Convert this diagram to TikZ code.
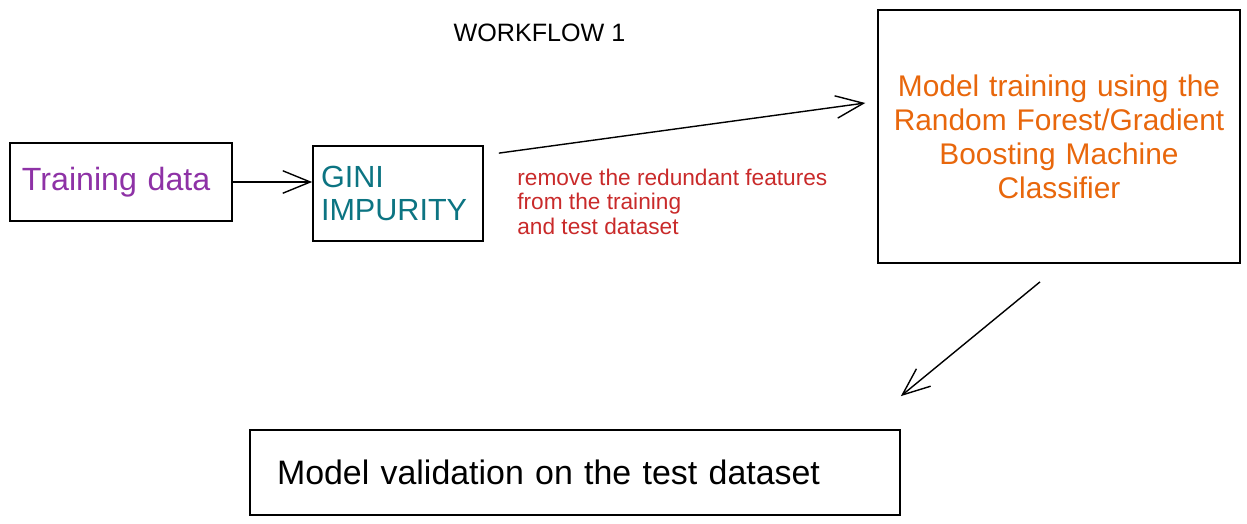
\documentclass[tikz,border=0pt]{standalone}
\usepackage{fontspec}
\setmainfont{Liberation Sans}
\usetikzlibrary{arrows.meta}
\definecolor{violet}{HTML}{8E32A6}
\definecolor{teal}{HTML}{0C7482}
\definecolor{orange}{HTML}{E8670C}
\definecolor{red}{HTML}{C92A2A}
\begin{document}
\begin{tikzpicture}[squarednode/.style={rectangle, draw, line width=1pt, font=\fontsize{17}{19.4}\selectfont},
	>={Straight Barb[length=5.5mm,width=4.5mm]}
	]
	\useasboundingbox (0,0) rectangle (24.94,10.48);
	\path
	+(10.79,9.82)  node[font=\fontsize{14.3}{17}\selectfont]  (0) {WORKFLOW 1}
	+(2.42,6.84)  node[squarednode,minimum width=4.44cm,minimum height=1.56cm,inner xsep=0.24cm,text width=3.96cm,align=left,text=violet,font=\fontsize{18.3}{21}\selectfont]  (1) {Training data}
	+(7.96,6.61)  node[squarednode,minimum width=3.4cm,minimum height=1.9cm,inner xsep=0.16cm,text width=3.08cm,align=left,text=teal,font=\fontsize{17.4}{18.4}\selectfont]  (2) {GINI\\IMPURITY}
	+(21.18,7.75)  node[squarednode,minimum width=7.16cm,minimum height=5.06cm,text width=7cm,align=center,text=orange]  (3) {Model training using the\\Random Forest/Gradient\\Boosting Machine\\Classifier}
	+(11.5,1.03)  node[squarednode,minimum width=13cm,minimum height=1.7cm,inner xsep=0.54cm,text width=11.92cm,align=left,font=\fontsize{19.3}{21}\selectfont]  (4) {Model validation on the test dataset}
	+(10.34,6.45)  node[anchor=west,inner sep=0pt,align=left,text=red,font=\fontsize{12.9}{13.9}\selectfont]  (5) {remove the redundant features\\from the training\\and test dataset}
	;
	\draw[->,line width=0.8pt] (1.east)--(1.east -| 2.west);
	\draw[->,line width=0.8pt] ([shift={(0.3,-0.16)}]2.north east)--([shift={(-0.24,0.67)}]3.west);
	\draw[->,line width=0.8pt] ([shift={(-0.38,-0.36)}]3.south)--([yshift=0.66cm]4.north east);
	\end{tikzpicture}
\end{document}
